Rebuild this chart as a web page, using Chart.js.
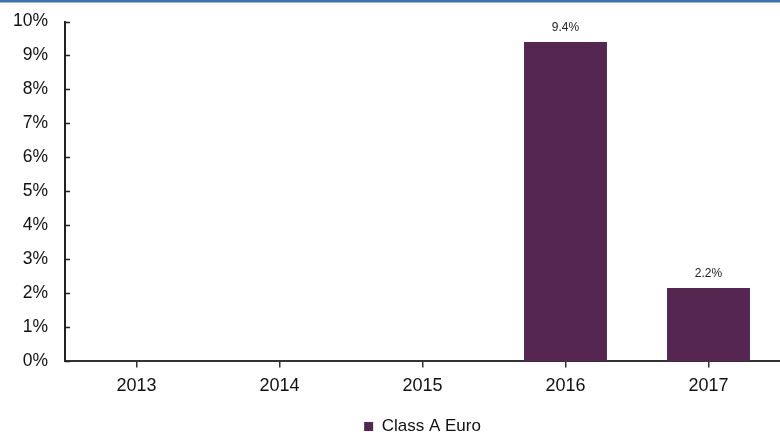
<!DOCTYPE html>
<html>
<head>
<meta charset="utf-8">
<script src="https://cdn.jsdelivr.net/npm/chart.js@4"></script>
<style>
  html, body { margin: 0; padding: 0; background: #fff; }
  #wrap { width: 780px; height: 432px; position: relative; overflow: hidden; box-sizing: border-box; border-top: 2px solid #3a76b4; }
  #wrap::after { content: ''; position: absolute; left: 0; right: 0; top: 0; height: 1px; background: #a8b4c0; }
</style>
</head>
<body>
<div id="wrap"><canvas id="chart" width="780" height="443"></canvas></div>
<script>
const years = ['2013', '2014', '2015', '2016', '2017'];
const classAEuro = [null, null, null, 9.4, 2.16];
const yTicks = [0, 1, 2, 3, 4, 5, 6, 7, 8, 9, 10];
const FONT = '"Liberation Sans", Arial, sans-serif';

// inward y ticks + value labels above bars
const extras = {
  id: 'extras',
  afterDatasetsDraw(chart) {
    const c = chart.ctx;
    const y = chart.scales.y;
    c.save();
    c.strokeStyle = '#222';
    c.lineWidth = 1.5;
    yTicks.forEach(v => {
      const py = Math.round(y.getPixelForValue(v)) + 0.5;
      c.beginPath();
      c.moveTo(chart.chartArea.left, py);
      c.lineTo(chart.chartArea.left + 5, py);
      c.stroke();
    });
    c.fillStyle = '#222';
    c.font = '12px ' + FONT;
    c.textAlign = 'center';
    c.textBaseline = 'bottom';
    chart.getDatasetMeta(0).data.forEach((bar, i) => {
      const v = classAEuro[i];
      if (v == null) return;
      c.fillText(v.toFixed(1) + '%', bar.x, bar.y - 8);
    });
    c.restore();
  }
};

new Chart(document.getElementById('chart').getContext('2d'), {
  type: 'bar',
  data: {
    labels: years,
    datasets: [{
      label: 'Class A Euro',
      data: classAEuro,
      backgroundColor: '#552650',
      barPercentage: 0.58,
      categoryPercentage: 1.0
    }]
  },
  options: {
    responsive: false,
    animation: false,
    layout: { padding: { top: 4, right: 0, left: 0, bottom: 0 } },
    scales: {
      x: {
        grid: { display: true, drawOnChartArea: false, offset: false, tickLength: 6, color: '#333', lineWidth: 1.5 },
        border: { display: true, color: '#333', width: 2 },
        ticks: { color: '#111', font: { size: 18, family: FONT }, padding: 8 }
      },
      y: {
        min: 0,
        max: 10,
        afterFit: scale => { scale.width = 65; },
        grid: { display: false },
        border: { display: true, color: '#222', width: 2 },
        ticks: {
          stepSize: 1,
          color: '#111',
          padding: 9,
          font: { size: 17.5, family: FONT },
          callback: v => v + '%'
        }
      }
    },
    plugins: {
      legend: {
        position: 'bottom',
        fullSize: false,
        labels: {
          boxWidth: 9,
          boxHeight: 9,
          padding: 13,
          color: '#111',
          font: { size: 17, family: FONT }
        }
      },
      tooltip: { enabled: false }
    }
  },
  plugins: [extras]
});
</script>
</body>
</html>
